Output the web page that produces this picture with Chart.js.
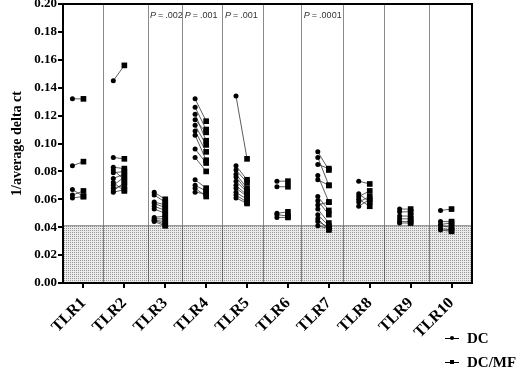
<!DOCTYPE html>
<html>
<head>
<meta charset="utf-8">
<script src="https://cdn.jsdelivr.net/npm/chart.js@4"></script>
<style>
  body { margin: 0; background: #fff; }
  #wrap { position: relative; width: 520px; height: 371px; }
  #legend { position: absolute; left: 445px; top: 326px; font: bold 15px "Liberation Serif"; }
  .item { display: flex; align-items: center; height: 24px; }
  .mark { position: relative; width: 14px; height: 10px; margin-right: 8px; }
  .mark .ln { position: absolute; left: 0; top: 5px; width: 14px; height: 1px; background: #000; }
  .mark .dot { position: absolute; left: 5px; top: 3px; width: 4px; height: 4px; border-radius: 50%; background: #000; }
  .mark .sq { position: absolute; left: 5px; top: 3px; width: 4px; height: 4px; background: #000; }
</style>
</head>
<body>
<div id="wrap">
  <canvas id="chart" width="520" height="371"></canvas>
  <div id="legend">
    <div class="item"><div class="mark"><div class="ln"></div><div class="dot"></div></div>DC</div>
    <div class="item"><div class="mark"><div class="ln"></div><div class="sq"></div></div>DC/MF</div>
  </div>
</div>
<script>
// data
const tlrLabels = ['TLR1', 'TLR2', 'TLR3', 'TLR4', 'TLR5', 'TLR6', 'TLR7', 'TLR8', 'TLR9', 'TLR10'];
const dcValues = [
  [0.132, 0.084, 0.067, 0.063, 0.061],
  [0.145, 0.090, 0.083, 0.081, 0.079, 0.075, 0.072, 0.070, 0.068, 0.066, 0.065],
  [0.065, 0.063, 0.058, 0.057, 0.055, 0.053, 0.047, 0.046, 0.045, 0.045, 0.044],
  [0.132, 0.126, 0.121, 0.117, 0.113, 0.109, 0.106, 0.096, 0.090, 0.074, 0.070, 0.068, 0.065],
  [0.134, 0.084, 0.081, 0.078, 0.076, 0.073, 0.070, 0.068, 0.065, 0.063, 0.061],
  [0.073, 0.069, 0.050, 0.049, 0.047],
  [0.094, 0.090, 0.085, 0.077, 0.074, 0.062, 0.059, 0.056, 0.053, 0.049, 0.046, 0.044, 0.041],
  [0.073, 0.064, 0.062, 0.060, 0.058, 0.055],
  [0.053, 0.051, 0.048, 0.046, 0.044, 0.043],
  [0.052, 0.044, 0.042, 0.041, 0.039, 0.038]
];
const mfValues = [
  [0.132, 0.087, 0.062, 0.066, 0.062],
  [0.156, 0.089, 0.082, 0.074, 0.080, 0.078, 0.066, 0.076, 0.070, 0.072, 0.067],
  [0.060, 0.058, 0.056, 0.054, 0.052, 0.050, 0.048, 0.046, 0.044, 0.042, 0.041],
  [0.116, 0.110, 0.102, 0.108, 0.099, 0.094, 0.088, 0.086, 0.080, 0.068, 0.066, 0.062, 0.064],
  [0.089, 0.074, 0.072, 0.068, 0.066, 0.065, 0.063, 0.062, 0.060, 0.058, 0.057],
  [0.073, 0.069, 0.051, 0.048, 0.047],
  [0.081, 0.070, 0.082, 0.058, 0.070, 0.052, 0.049, 0.058, 0.043, 0.041, 0.038, 0.040, 0.039],
  [0.071, 0.058, 0.066, 0.055, 0.062, 0.060],
  [0.053, 0.051, 0.048, 0.046, 0.044, 0.043],
  [0.053, 0.044, 0.043, 0.040, 0.038, 0.037]
];
const yTicks = [0, 0.02, 0.04, 0.06, 0.08, 0.10, 0.12, 0.14, 0.16, 0.18, 0.20];
const cutoff = 0.041;
const separators = [1.48, 2.58, 3.43, 4.41, 5.41, 6.34, 7.37, 8.37, 9.45];
const pPanels = [3, 4, 5, 7];
const pTexts = ['.002', '.001', '.001', '.0001'];

const dcShift = 0.27;

// build points
const dcPoints = [];
const mfPoints = [];
const links = [];
tlrLabels.forEach((lab, i) => {
  dcValues[i].forEach((v, j) => {
    const dc = { x: i + 1 - dcShift, y: v };
    const mf = { x: i + 1, y: mfValues[i][j] };
    dcPoints.push(dc);
    mfPoints.push(mf);
    links.push(dc, mf, { x: i + 1, y: null });
  });
});

// dotted fill for the cutoff area (transparent so separators show)
function dotPattern() {
  const c = document.createElement('canvas');
  c.width = 2; c.height = 2;
  const g = c.getContext('2d');
  g.fillStyle = 'rgba(0,0,0,0.08)';
  g.fillRect(0, 0, 2, 2);
  g.fillStyle = 'rgba(0,0,0,0.35)';
  g.fillRect(0, 0, 1, 1);
  return g.createPattern(c, 'repeat');
}

const frame = {
  id: 'frame',
  afterDatasetsDraw(chart) {
    const { ctx, chartArea: a, scales } = chart;
    ctx.save();
    ctx.strokeStyle = '#000';
    ctx.lineWidth = 2;
    ctx.strokeRect(a.left, a.top, a.right - a.left, a.bottom - a.top);
    // p-values
    ctx.fillStyle = '#333';
    ctx.textBaseline = 'middle';
    const yy = scales.y.getPixelForValue(0.192);
    pPanels.forEach((p, k) => {
      let x = scales.x.getPixelForValue(separators[p - 2]) + 2;
      ctx.font = 'italic 9px "Liberation Sans"';
      ctx.fillText('P', x, yy);
      x += ctx.measureText('P').width + 2;
      ctx.font = '9px "Liberation Sans"';
      ctx.fillText('=', x, yy);
      x += ctx.measureText('=').width + 2;
      ctx.fillText(pTexts[k], x, yy);
    });
    ctx.restore();
  }
};

new Chart(document.getElementById('chart'), {
  type: 'scatter',
  data: {
    datasets: [
      {
        type: 'line',
        order: 10,
        data: [{ x: 0.5, y: cutoff }, { x: 10.5, y: cutoff }],
        borderColor: '#777',
        borderWidth: 1,
        backgroundColor: dotPattern(),
        fill: 'origin',
        pointRadius: 0
      },
      {
        type: 'line',
        order: 5,
        data: links,
        borderColor: '#333',
        borderWidth: 0.8,
        spanGaps: false,
        pointRadius: 0,
        fill: false
      },
      {
        label: 'DC',
        order: 1,
        data: dcPoints,
        pointStyle: 'circle',
        pointRadius: 2.5,
        backgroundColor: '#000',
        borderColor: '#000',
        borderWidth: 0
      },
      {
        label: 'DC/MF',
        order: 1,
        data: mfPoints,
        pointStyle: 'rect',
        pointRadius: 4,
        backgroundColor: '#000',
        borderColor: '#000',
        borderWidth: 0
      }
    ]
  },
  options: {
    responsive: false,
    animation: false,
    layout: { padding: { left: 0, right: 48, top: 3, bottom: 0 } },
    plugins: { legend: { display: false }, tooltip: { enabled: false } },
    scales: {
      x: {
        type: 'linear',
        min: 0.5,
        max: 10.5,
        afterBuildTicks: axis => { axis.ticks = tlrLabels.map((l, i) => ({ value: i + 1 })); },
        afterFit: axis => { axis.height = 88; axis.paddingLeft = 0; axis.paddingRight = 0; },
        ticks: {
          autoSkip: false,
          minRotation: 45,
          maxRotation: 45,
          color: '#000',
          padding: 6,
          font: { family: 'Liberation Serif', size: 16, weight: 'bold' },
          callback: v => tlrLabels[Math.round(v) - 1]
        },
        grid: { drawOnChartArea: false, drawTicks: true, tickLength: 5, color: '#000', lineWidth: 2 },
        border: { color: '#000', width: 2 }
      },
      xSep: {
        type: 'linear',
        position: 'top',
        min: 0.5,
        max: 10.5,
        afterBuildTicks: axis => { axis.ticks = separators.map(v => ({ value: v })); },
        afterFit: axis => { axis.height = 0; axis.paddingLeft = 0; axis.paddingRight = 0; },
        ticks: { display: false },
        grid: { drawTicks: false, color: '#8a8a8a', lineWidth: 1 },
        border: { display: false }
      },
      y: {
        min: 0,
        max: 0.2,
        afterBuildTicks: axis => { axis.ticks = yTicks.map(v => ({ value: v })); },
        afterFit: axis => { axis.width = 63; axis.paddingTop = 0; axis.paddingBottom = 0; },
        ticks: {
          color: '#000',
          padding: 1,
          font: { family: 'Liberation Serif', size: 13, weight: 'bold' },
          callback: v => v.toFixed(2)
        },
        grid: { drawOnChartArea: false, drawTicks: true, tickLength: 5, color: '#000', lineWidth: 2 },
        border: { color: '#000', width: 2 },
        title: {
          display: true,
          text: '1/average delta ct',
          color: '#000',
          padding: { top: 9, bottom: 4 },
          font: { family: 'Liberation Serif', size: 14, weight: 'bold' }
        }
      }
    }
  },
  plugins: [frame]
});
</script>
</body>
</html>
